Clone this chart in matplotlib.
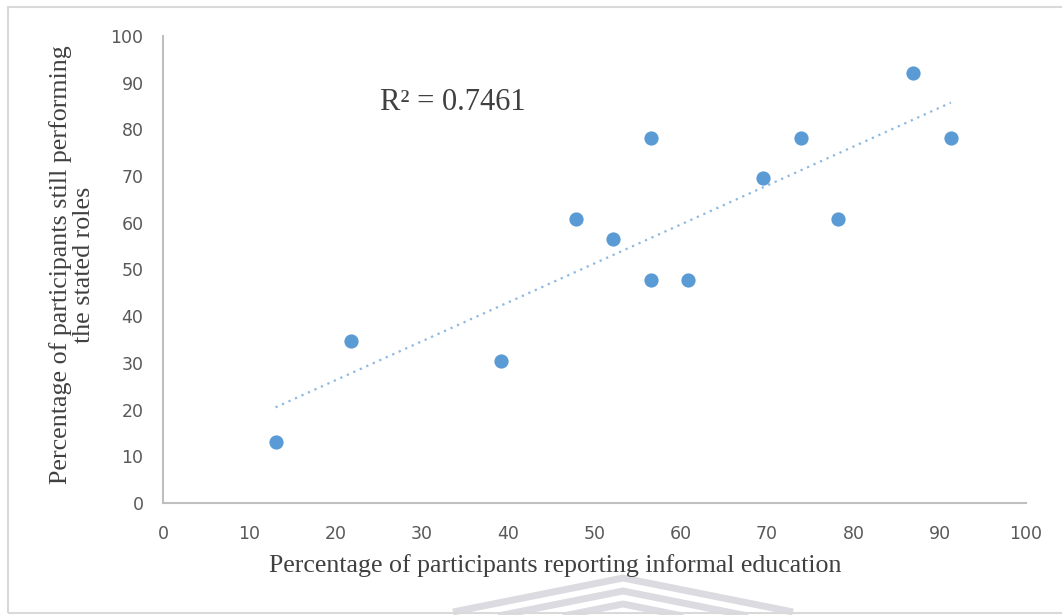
import numpy as np
import matplotlib
matplotlib.use("Agg")
import matplotlib.pyplot as plt
from matplotlib.lines import Line2D
from matplotlib.patches import Rectangle

# Participant shares (percent) for each role
informal_education = [13.04, 21.74, 39.13, 47.83, 52.17, 56.52, 56.52, 60.87, 69.57, 73.91, 78.26, 86.96, 91.30]
still_performing = [13.04, 34.78, 30.43, 60.87, 56.52, 78.26, 47.83, 47.83, 69.57, 78.26, 60.87, 92.0, 78.26]
x_ticks = list(range(0, 101, 10))
y_ticks = list(range(0, 101, 10))
r_squared_label = "R² = 0.7461"

blue = "#5B9BD5"
tick_grey = "#595959"
axis_grey = "#BFBFBF"
title_grey = "#404040"

W, H = 1062, 615
fig = plt.figure(figsize=(W / 100, H / 100), dpi=100)
left, right, top, bottom = 163, 1026, 36, 503
ax = fig.add_axes([left / W, 1 - bottom / H, (right - left) / W, (bottom - top) / H])

ax.scatter(informal_education, still_performing, s=105, color=blue, zorder=3, linewidths=0)

# Linear trendline across the data range
coef = np.polyfit(informal_education, still_performing, 1)
xs = np.array([min(informal_education), max(informal_education)])
ax.plot(xs, np.polyval(coef, xs), linestyle=(0, (1, 2.2)), color=blue, lw=1.6, alpha=0.7, zorder=2)

ax.set_xlim(0, 100)
ax.set_ylim(0, 100)
ax.set_xticks(x_ticks)
ax.set_yticks(y_ticks)
for side in ("top", "right"):
    ax.spines[side].set_visible(False)
for side in ("left", "bottom"):
    ax.spines[side].set_color(axis_grey)
    ax.spines[side].set_linewidth(1.5)
ax.tick_params(length=0, labelsize=12.5, colors=tick_grey)
ax.tick_params(axis="x", pad=16)
ax.tick_params(axis="y", pad=14)
for lab in ax.get_xticklabels() + ax.get_yticklabels():
    lab.set_fontfamily("DejaVu Sans")

ax.set_xlabel("Percentage of participants reporting informal education",
              fontfamily="Liberation Serif", fontsize=18.6, color=title_grey)
ax.xaxis.set_label_coords((555 - left) / (right - left), (bottom - 566) / (bottom - top))
ax.xaxis.label.set_va("center")

ax.set_ylabel("Percentage of participants still performing\nthe stated roles",
              fontfamily="Liberation Serif", fontsize=18.7, color=title_grey,
              linespacing=1.03)
ax.yaxis.set_label_coords((72 - left) / (right - left), (bottom - 265) / (bottom - top))
ax.yaxis.label.set_va("center")

ax.text((380 - left) / (right - left), (bottom - 103) / (bottom - top), r_squared_label,
        transform=ax.transAxes, fontfamily="Liberation Serif",
        fontsize=22, color=title_grey, ha="left", va="center")

# Outer chart frame
fig.patches.append(Rectangle((8 / W, 2 / H), 1.1, 1 - 9 / H, transform=fig.transFigure,
                             fill=False, edgecolor="#D9D9D9", linewidth=1.5))

# Faint chevron emblem at the bottom
for apex in [578, 591, 604]:
    yt = 1 - apex / H
    drop = 34 / H
    fig.add_artist(Line2D([(623 - 170) / W, 623 / W, (623 + 170) / W],
                          [yt - drop, yt, yt - drop], transform=fig.transFigure,
                          color="#D2D2DA", lw=5, alpha=0.8, zorder=0, solid_capstyle="butt"))

fig.savefig("out.png", dpi=100, facecolor="white")
